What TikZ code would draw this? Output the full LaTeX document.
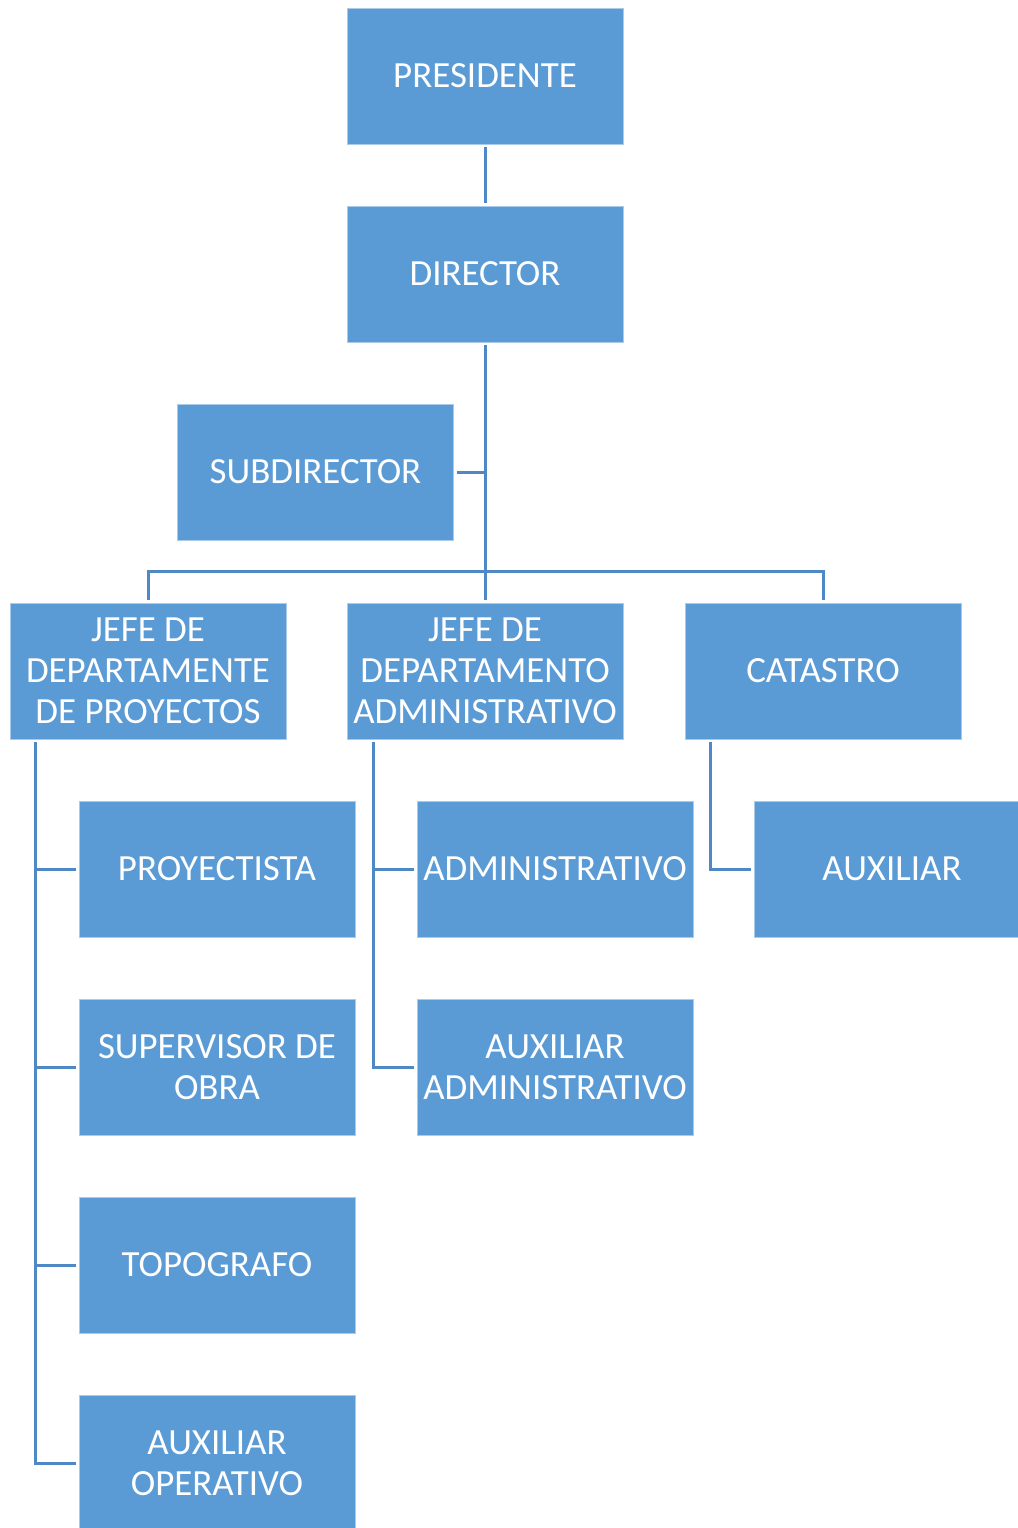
\documentclass[tikz,border=0pt]{standalone}
\usepackage{fontspec}
\setmainfont{Carlito}
\usepackage{xcolor}
\usepackage{tikz}
\usetikzlibrary{calc,positioning}
\definecolor{azul}{RGB}{91,155,213}
\definecolor{borde}{RGB}{170,202,234}
\definecolor{linea}{RGB}{78,137,198}
\tikzset{
  puesto/.style={draw=borde, line width=0.4pt, fill=azul, text=white,
  minimum width=5.52cm, minimum height=2.72cm, align=center, inner sep=1pt,
  outer sep=0.06cm, font=\fontsize{21}{23.3}\selectfont},
  enlace/.style={draw=linea, line width=0.06cm}
}

\begin{document}
\begin{tikzpicture}[node distance=1.12cm]
    \useasboundingbox (0,0) rectangle (20.36,-30.56);
    \clip (0,0) rectangle (20.36,-30.56);
    \node (pres) [puesto] at (9.70,-1.52) {PRESIDENTE};
    \node (dir) [puesto,below=of pres] {DIRECTOR};
    \node (subdir) [puesto,below=of dir,xshift=-3.39cm] {SUBDIRECTOR};
    \node (jefeAdm) [puesto,below=5.10cm of dir] {JEFE DE\\DEPARTAMENTO\\ADMINISTRATIVO};
    \node (jefeProy) [puesto,left=1.10cm of jefeAdm] {JEFE DE\\DEPARTAMENTE\\DE PROYECTOS};
    \node (catastro) [puesto,right=1.12cm of jefeAdm] {CATASTRO};
    % hijos de cada jefe
    \node (proyectista) [puesto,below=of jefeProy,xshift=1.38cm] {PROYECTISTA};
    \node (supervisor) [puesto,below=of proyectista] {SUPERVISOR DE\\OBRA};
    \node (topografo) [puesto,below=of supervisor] {TOPOGRAFO};
    \node (auxOper) [puesto,below=of topografo] {AUXILIAR\\OPERATIVO};
    \node (admvo) [puesto,below=of jefeAdm,xshift=1.40cm] {ADMINISTRATIVO};
    \node (auxAdm) [puesto,below=of admvo] {AUXILIAR\\ADMINISTRATIVO};
    \node (auxiliar) [puesto,below=of catastro,xshift=1.38cm] {AUXILIAR};
    \coordinate (rama) at ($(subdir.south)!0.5!(jefeAdm.north)$);
    \coordinate (ejeProy) at ($(jefeProy.south west)+(0.58,0)$);
    \coordinate (ejeAdm) at ($(jefeAdm.south west)+(0.58,0)$);
    \coordinate (ejeCat) at ($(catastro.south west)+(0.56,0)$);
    \path (pres) edge [enlace] (dir);
    \path (dir) edge [enlace] (jefeAdm);
    \draw [enlace] (subdir) -- (subdir -| dir);
    \draw [enlace] (jefeProy) |- (rama) -| (catastro);
    \draw [enlace] (ejeProy) |- (proyectista);
    \draw [enlace] (ejeProy) |- (supervisor);
    \draw [enlace] (ejeProy) |- (topografo);
    \draw [enlace] (ejeProy) |- (auxOper);
    \draw [enlace] (ejeAdm) |- (admvo);
    \draw [enlace] (ejeAdm) |- (auxAdm);
    \draw [enlace] (ejeCat) |- (auxiliar);
\end{tikzpicture}
\end{document}
